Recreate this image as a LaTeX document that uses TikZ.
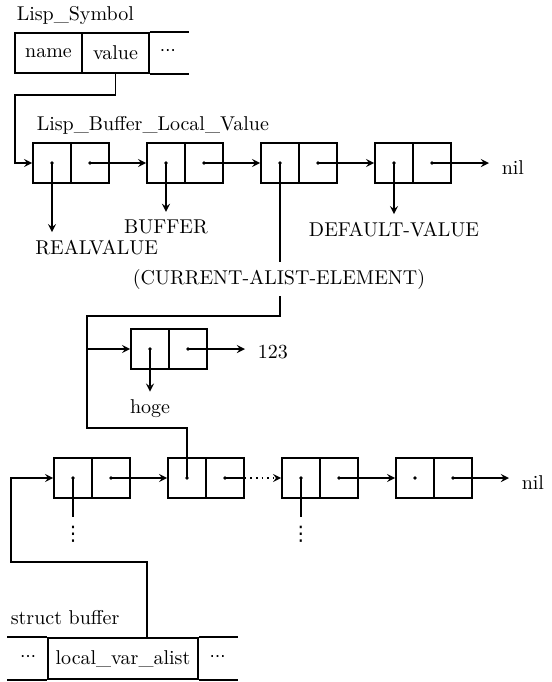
\documentclass[tikz,border=0pt]{standalone}
\usepackage{amsmath,amssymb}
\usepackage{fontspec}
\newfontfamily\dotfont{DejaVu Sans}
\usepackage{tikz}
\usetikzlibrary{arrows,calc}
\tikzset{>=stealth}
\newcommand{\middots}{{\dotfont\footnotesize ⋯}}

\begin{document}
\begin{tikzpicture}[x=0.5pt, y=-0.5pt, thick, every node/.style={font=\normalsize},
	cell/.style={draw, minimum width=19pt, minimum height=20pt, inner sep=0pt,
		path picture={\fill (path picture bounding box.center) circle (0.9pt);}},
	field/.style={draw, minimum height=20pt, inner sep=0pt},
	title/.style={inner sep=0pt, anchor=base west},
	tail/.style={anchor=base west, inner xsep=6pt},
	vdot/.style={anchor=north, inner sep=0pt, font=\dotfont}]
	\useasboundingbox (0,0) rectangle (552,682);
	% Lisp_Symbol
	\node[title] (symlbl) at (16,20) {Lisp\_Symbol};
	\node[field, minimum width=33.5pt] (sname) at (48.5,53) {name};
	\node[field, minimum width=33.5pt] (svalue) at (115.5,53) {value};
	\node (sdots) at (168,53) {\middots};
	\draw (svalue.north east) -- ++(39,0);
	\draw (svalue.south east) -- ++(39,0);
	% Lisp_Buffer_Local_Value cells
	\node[title] (blvlbl) at (36,130) {Lisp\_Buffer\_Local\_Value};
	\node[cell] (v1a) at (52,163) {};
	\node[cell] (v1d) at (90,163) {};
	\node[cell] (v2a) at (166,163) {};
	\node[cell] (v2d) at (204,163) {};
	\node[cell] (v3a) at (280,163) {};
	\node[cell] (v3d) at (318,163) {};
	\node[cell] (v4a) at (394,163) {};
	\node[cell] (v4d) at (432,163) {};
	\node[tail] (nil1) at (489,174) {nil};
	% what the cars point to
	\node[anchor=base west] (realv) at (28,254) {REALVALUE};
	\node[anchor=base] (buf) at (166,233) {BUFFER};
	\node[anchor=base] (defv) at (394,236) {DEFAULT-VALUE};
	\node[anchor=base] (cur) at (279,284) {(CURRENT-ALIST-ELEMENT)};
	% the alist element (hoge . 123)
	\node[cell] (h1a) at (150,349) {};
	\node[cell] (h1d) at (188,349) {};
	\node[anchor=base] (hoge) at (150,413) {hoge};
	\node[tail] (n123) at (245,358) {123};
	% local_var_alist cells
	\node[cell] (b1a) at (73,478) {};
	\node[cell] (b1d) at (111,478) {};
	\node[cell] (b2a) at (187,478) {};
	\node[cell] (b2d) at (225,478) {};
	\node[cell] (b3a) at (301,478) {};
	\node[cell] (b3d) at (339,478) {};
	\node[cell] (b4a) at (415,478) {};
	\node[cell] (b4d) at (453,478) {};
	\node[tail] (nil2) at (509,489) {nil};
	\node[vdot] (vd1) at (73,525) {⋮};
	\node[vdot] (vd3) at (301,525) {⋮};
	% struct buffer
	\node[title] (buflbl) at (10,624) {struct buffer};
	\node[field, minimum width=75pt, minimum height=20.5pt] (lva) at (123,658.5) {local\_var\_alist};
	\node (ldots) at (28,658.5) {\middots};
	\node (rdots) at (217.5,658.5) {\middots};
	\draw (lva.north west) -- ++(-40,0);
	\draw (lva.south west) -- ++(-40,0);
	\draw (lva.north east) -- ++(39,0);
	\draw (lva.south east) -- ++(39,0);

	% symbol value -> first cell
	\draw[->] (svalue.south) -- ++(0,21) -- ++(-100.5,0) |- (v1a.west);
	% top chain
	\draw[->] (v1d.center) -- (v2a.west);
	\draw[->] (v2d.center) -- (v3a.west);
	\draw[->] (v3d.center) -- (v4a.west);
	\draw[->] (v4d.center) -- (v4d.center -| nil1.west);
	\draw[->] (v1a.center) -- (v1a.center |- realv.north);
	\draw[->] (v2a.center) -- (v2a.center |- buf.north);
	\draw[->] (v4a.center) -- (v4a.center |- defv.north);
	% current alist element
	\coordinate (turn1) at (87,316);
	\coordinate (turn2) at (87,428);
	\draw (v3a.center) -- (v3a.center |- cur.north);
	\draw (v3a.center |- cur.south) |- (turn1) -- (turn2) -| (b2a.center);
	\draw[->] (turn1 |- h1a.west) -- (h1a.west);
	\draw[->] (h1a.center) -- (h1a.center |- hoge.north);
	\draw[->] (h1d.center) -- (h1d.center -| n123.west);
	% bottom chain
	\draw[->] (b1d.center) -- (b2a.west);
	\draw (b2d.center) -- (b2d.east);
	\draw[->, dotted] (b2d.east) -- (b3a.west);
	\draw[->] (b3d.center) -- (b4a.west);
	\draw[->] (b4d.center) -- (b4d.center -| nil2.west);
	\draw (b1a.center) -- ([yshift=4pt]vd1.north);
	\draw (b3a.center) -- ([yshift=4pt]vd3.north);
	% struct buffer -> alist
	\coordinate (lft) at (11,562);
	\draw[->] ([xshift=12pt]lva.north) |- (lft) |- (b1a.west);
\end{tikzpicture}
\end{document}
